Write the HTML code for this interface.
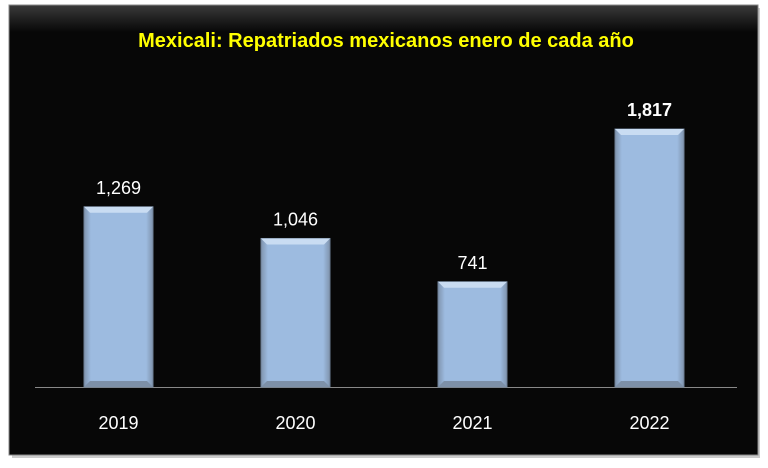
<!DOCTYPE html>
<html><head><meta charset="utf-8"><style>
body{margin:0;background:#fff;}
svg{display:block;font-family:"Liberation Sans",sans-serif;}
</style></head><body>
<svg id="c" width="768" height="468">
<defs>
<linearGradient id="frame" x1="0" y1="0" x2="0" y2="1">
<stop offset="0" stop-color="#3a3a3a"/><stop offset="0.06" stop-color="#070707"/><stop offset="1" stop-color="#070707"/>
</linearGradient>
<linearGradient id="bar" x1="0" y1="0" x2="1" y2="0">
<stop offset="0" stop-color="#7f93ad"/><stop offset="0.1" stop-color="#9dbbe0"/><stop offset="0.9" stop-color="#9dbbe0"/><stop offset="1" stop-color="#7f93ad"/>
</linearGradient>
</defs>
<rect x="12" y="8" width="748" height="450" fill="#999" opacity="0.5"/>
<rect x="9" y="5" width="749" height="450" fill="url(#frame)" stroke="#888" stroke-width="1"/>
<text x="386" y="47" text-anchor="middle" fill="#ffff00" font-weight="bold" font-size="20">Mexicali: Repatriados mexicanos enero de cada año</text>
<line x1="35" y1="387.5" x2="737" y2="387.5" stroke="#888" stroke-width="1"/>
<g id="bars"></g>
</svg>
<script>
const categories=["2019","2020","2021","2022"];
const values=[1269,1046,741,1817];
const labels=["1,269","1,046","741","1,817"];
const svg=document.getElementById('c');
const g=document.getElementById('bars');
const NS="http://www.w3.org/2000/svg";
const x0=30,band=177,baseY=387,scale=258/1817,bw=69;
function xc(i){return x0+band*(i+0.5);}
function y(v){return baseY-v*scale;}
function mk(tag,attrs){const e=document.createElementNS(NS,tag);for(const k in attrs)e.setAttribute(k,attrs[k]);return e;}
values.forEach((v,i)=>{
  const cx=xc(i),top=y(v),h=baseY-top,l=cx-bw/2;
  const r=mk('rect',{x:l,y:top,width:bw,height:h,fill:'url(#bar)',stroke:'#6d7f96','stroke-width':1});
  
  
  g.appendChild(r);
  const bevel=mk('polygon',{points:`${l},${top} ${l+bw},${top} ${l+bw-6},${top+6} ${l+6},${top+6}`,fill:'#c9dcf2'});
  
  
  g.appendChild(bevel);
  const bot=mk('polygon',{points:`${l},${baseY} ${l+bw},${baseY} ${l+bw-6},${baseY-6} ${l+6},${baseY-6}`,fill:'#7d90a8'});
  
  
  g.appendChild(bot);
  const t=mk('text',{x:cx,y:top-13,'text-anchor':'middle',fill:'#fff','font-size':18});
  if(i===3)t.setAttribute('font-weight','bold');
  t.textContent=labels[i];
  
  
  g.appendChild(t);
  const c=mk('text',{x:cx,y:429,'text-anchor':'middle',fill:'#fff','font-size':18});
  c.textContent=categories[i];
  
  
  g.appendChild(c);
});
</script>
</body></html>
